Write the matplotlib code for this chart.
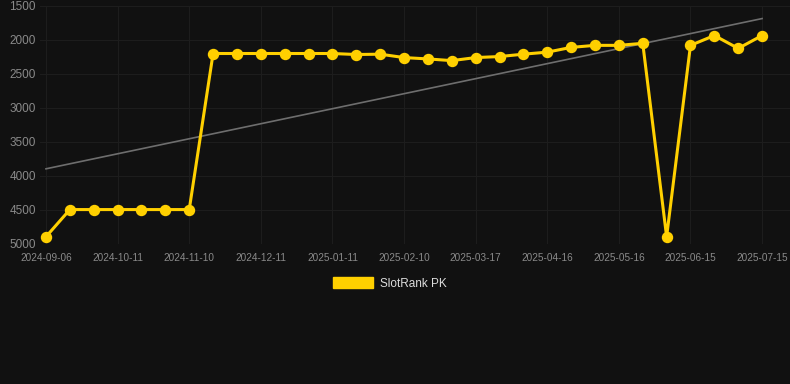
import matplotlib
matplotlib.use("Agg")
import matplotlib.pyplot as plt
from matplotlib.patches import Patch
import numpy as np

plt.rcParams['font.family'] = ['Liberation Sans', 'DejaVu Sans']

# data
dates = ["2024-09-06", "2024-09-18", "2024-09-30", "2024-10-11", "2024-10-21",
         "2024-10-31", "2024-11-10", "2024-11-20", "2024-12-01", "2024-12-11",
         "2024-12-21", "2025-01-01", "2025-01-11", "2025-01-21", "2025-01-31",
         "2025-02-10", "2025-02-22", "2025-03-06", "2025-03-17", "2025-03-27",
         "2025-04-06", "2025-04-16", "2025-04-26", "2025-05-06", "2025-05-16",
         "2025-05-26", "2025-06-05", "2025-06-15", "2025-06-25", "2025-07-05",
         "2025-07-15"]
rank = [4900, 4500, 4500, 4500, 4500, 4500, 4500, 2200, 2200, 2200,
        2200, 2200, 2200, 2215, 2210, 2260, 2280, 2305, 2260, 2245,
        2210, 2180, 2110, 2080, 2080, 2050, 4900, 2080, 1935, 2125,
        1935]
series_name = "SlotRank PK"
y_ticks = [1500, 2000, 2500, 3000, 3500, 4000, 4500, 5000]

bg = '#111111'
yellow = '#FFD000'

fig = plt.figure(figsize=(7.9, 3.84), dpi=100, facecolor=bg)
ax = fig.add_axes([40 / 790, (384 - 243.5) / 384, 750 / 790, 237.5 / 384])
ax.set_facecolor(bg)

x = np.arange(len(dates))

# trend line (least squares fit)
k, b = np.polyfit(x, rank, 1)
ax.plot(x, k * x + b, color='#6e6e6e', linewidth=1.2, zorder=2)

ax.plot(x, rank, color=yellow, linewidth=2.2, marker='o', markersize=7.2,
        markerfacecolor=yellow, markeredgecolor=yellow, zorder=3)

ax.set_ylim(5000, 1500)
ax.set_yticks(y_ticks)
ax.set_yticklabels([str(v) for v in y_ticks])
step = 23.87
ax.set_xlim(-6 / step, (790 - 46) / step)
ax.set_xticks(x[::3])
ax.set_xticklabels(dates[::3])

ax.grid(True, color='#1d1d1d', linewidth=0.8, zorder=0)
for s in ax.spines.values():
    s.set_visible(False)
ax.tick_params(axis='y', length=0, pad=3, labelsize=8.5, labelcolor='#8a8a8a')
ax.tick_params(axis='x', length=0, pad=7, labelsize=7.2, labelcolor='#8a8a8a')

fig.legend(handles=[Patch(facecolor=yellow, edgecolor=yellow, label=series_name)],
           loc='center', bbox_to_anchor=(390 / 790, (384 - 283.5) / 384),
           frameon=False, fontsize=8.5, labelcolor='#dddddd',
           handlelength=3.4, handleheight=1.0, handletextpad=0.6)

fig.savefig('out.png', dpi=100, facecolor=bg)
